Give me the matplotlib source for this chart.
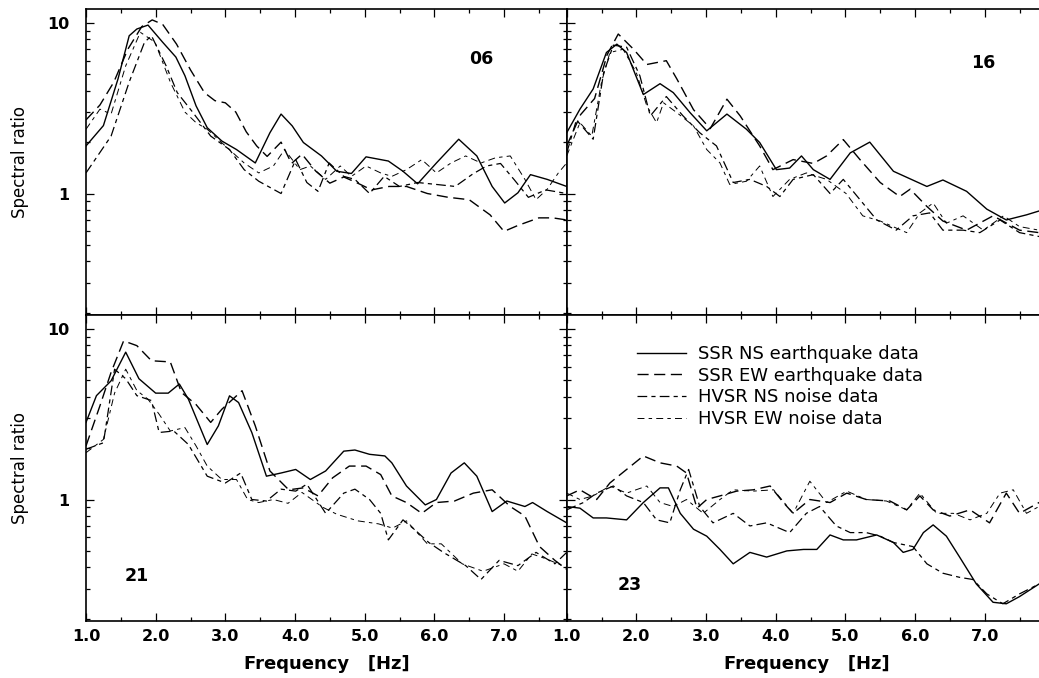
import matplotlib
matplotlib.use('Agg')
import matplotlib.pyplot as plt
from matplotlib.ticker import FixedLocator, NullFormatter

plt.rcParams['font.family'] = ['DejaVu Sans']
plt.rcParams['lines.scale_dashes'] = False

# ---- site 06 ----
f06_ssr_ns = [1.0, 1.25, 1.46, 1.62, 1.73, 1.89, 2.1, 2.29, 2.42, 2.58, 2.74, 2.95, 3.16, 3.43, 3.64, 3.8,
              3.96, 4.12, 4.38, 4.6, 4.81, 5.02, 5.34, 5.55, 5.76, 6.03, 6.35, 6.61, 6.83, 7.01, 7.2, 7.38, 7.62, 7.9]
r06_ssr_ns = [1.9, 2.5, 4.7, 8.4, 9.2, 9.7, 7.7, 6.3, 4.9, 3.26, 2.43, 2.03, 1.81, 1.51, 2.27, 2.92,
              2.49, 1.99, 1.66, 1.35, 1.31, 1.64, 1.55, 1.35, 1.14, 1.51, 2.08, 1.66, 1.1, 0.88, 1.01, 1.29, 1.21, 1.1]
f06_ssr_ew = [1.0, 1.2, 1.4, 1.6, 1.8, 1.95, 2.1, 2.3, 2.5, 2.7, 2.85, 3.0, 3.15, 3.3, 3.45, 3.6, 3.8, 3.95,
              4.1, 4.3, 4.5, 4.7, 4.9, 5.1, 5.35, 5.6, 5.9, 6.2, 6.5, 6.8, 7.0, 7.2, 7.5, 7.7, 7.9]
r06_ssr_ew = [2.7, 3.3, 4.5, 7.0, 9.5, 10.4, 9.8, 7.5, 5.3, 3.9, 3.5, 3.4, 3.0, 2.3, 1.9, 1.65, 2.0, 1.5,
              1.7, 1.35, 1.15, 1.25, 1.15, 1.05, 1.1, 1.1, 1.0, 0.95, 0.92, 0.75, 0.6, 0.65, 0.72, 0.72, 0.7]
f06_hv_ns = [1.0, 1.36, 1.62, 1.84, 1.94, 2.15, 2.31, 2.53, 2.79, 3.06, 3.27, 3.48, 3.8, 4.01, 4.17, 4.33,
             4.49, 4.7, 4.86, 5.07, 5.28, 5.5, 5.76, 6.03, 6.3, 6.55, 6.75, 6.95, 7.15, 7.35, 7.6, 7.9]
r06_hv_ns = [1.32, 2.17, 4.5, 7.7, 8.4, 5.6, 3.9, 3.0, 2.17, 1.81, 1.38, 1.18, 1.0, 1.58, 1.16, 1.03,
             1.51, 1.26, 1.21, 1.0, 1.26, 1.1, 1.16, 1.13, 1.1, 1.3, 1.45, 1.5, 1.2, 0.95, 1.05, 1.0]
f06_hv_ew = [1.0, 1.2, 1.36, 1.57, 1.78, 1.99, 2.21, 2.42, 2.58, 2.74, 3.0, 3.27, 3.48, 3.69, 3.85, 4.07,
             4.22, 4.44, 4.65, 4.81, 5.02, 5.23, 5.39, 5.6, 5.82, 6.03, 6.24, 6.45, 6.67, 6.88, 7.09, 7.3,
             7.46, 7.62, 7.78, 7.9]
r06_hv_ew = [2.38, 3.12, 2.92, 5.6, 8.8, 7.7, 4.5, 3.0, 2.6, 2.38, 1.9, 1.51, 1.32, 1.45, 1.81, 1.38,
             1.45, 1.21, 1.45, 1.26, 1.45, 1.32, 1.26, 1.38, 1.58, 1.32, 1.51, 1.66, 1.51, 1.62, 1.66, 1.21,
             0.92, 1.06, 1.32, 1.51]

# ---- site 16 ----
f16_ssr_ns = [1.0, 1.19, 1.38, 1.57, 1.72, 1.86, 2.1, 2.34, 2.53, 2.77, 3.01, 3.3, 3.58, 3.77, 4.01, 4.2,
              4.37, 4.54, 4.78, 5.07, 5.35, 5.69, 6.17, 6.4, 6.74, 7.03, 7.31, 7.6, 7.78, 7.9]
r16_ssr_ns = [2.27, 3.12, 4.1, 6.7, 7.5, 6.7, 3.8, 4.4, 3.9, 2.98, 2.33, 2.92, 2.38, 1.99, 1.38, 1.41,
              1.66, 1.38, 1.21, 1.73, 2.0, 1.35, 1.1, 1.2, 1.03, 0.81, 0.7, 0.75, 0.79, 0.8]
f16_ssr_ew = [1.0, 1.2, 1.4, 1.58, 1.74, 1.96, 2.15, 2.43, 2.58, 2.82, 3.06, 3.3, 3.49, 3.77, 3.96, 4.25,
              4.54, 4.73, 4.97, 5.21, 5.5, 5.78, 5.93, 6.17, 6.4, 6.74, 7.12, 7.5, 7.78, 7.9]
r16_ssr_ew = [1.9, 2.9, 3.6, 6.5, 8.6, 7.0, 5.7, 6.0, 4.7, 3.1, 2.4, 3.57, 2.85, 1.9, 1.38, 1.58,
              1.5, 1.66, 2.07, 1.58, 1.16, 0.96, 1.06, 0.84, 0.69, 0.61, 0.74, 0.61, 0.59, 0.6]
f16_hv_ns = [1.0, 1.14, 1.38, 1.53, 1.67, 1.86, 2.05, 2.2, 2.43, 2.67, 2.91, 3.15, 3.39, 3.63, 3.87, 4.06,
             4.25, 4.54, 4.78, 4.97, 5.21, 5.45, 5.73, 5.97, 6.21, 6.4, 6.69, 6.93, 7.22, 7.5, 7.78, 7.9]
r16_hv_ns = [1.73, 2.7, 2.08, 5.1, 7.4, 7.2, 4.9, 2.85, 3.7, 2.85, 2.27, 1.9, 1.16, 1.21, 1.1, 0.96,
             1.21, 1.29, 1.0, 1.21, 0.92, 0.7, 0.61, 0.74, 0.77, 0.61, 0.61, 0.59, 0.7, 0.59, 0.56, 0.57]
f16_hv_ew = [1.0, 1.19, 1.36, 1.5, 1.62, 1.81, 2.0, 2.15, 2.29, 2.39, 2.58, 2.82, 3.01, 3.2, 3.34, 3.58,
             3.77, 3.96, 4.2, 4.44, 4.73, 5.01, 5.25, 5.5, 5.88, 6.07, 6.26, 6.45, 6.69, 6.98, 7.27, 7.5,
             7.78, 7.9]
r16_hv_ew = [1.66, 2.6, 2.17, 4.5, 6.7, 7.0, 5.1, 3.26, 2.6, 3.4, 2.98, 2.49, 1.81, 1.51, 1.13, 1.18,
             1.45, 0.96, 1.21, 1.32, 1.21, 1.0, 0.74, 0.69, 0.59, 0.77, 0.88, 0.67, 0.74, 0.61, 0.74, 0.64,
             0.61, 0.62]

# ---- site 21 ----
f21_ssr_ns = [1.0, 1.15, 1.36, 1.57, 1.76, 2.0, 2.18, 2.34, 2.47, 2.74, 2.9, 3.06, 3.19, 3.38, 3.59, 3.8,
              4.01, 4.22, 4.44, 4.7, 4.86, 5.07, 5.29, 5.39, 5.6, 5.87, 6.03, 6.24, 6.43, 6.61, 6.83, 7.04,
              7.3, 7.41, 7.62, 7.9]
r21_ssr_ns = [2.83, 4.06, 4.96, 7.3, 5.1, 4.2, 4.2, 4.75, 3.87, 2.1, 2.7, 4.05, 3.7, 2.47, 1.37, 1.43,
              1.5, 1.31, 1.47, 1.92, 1.95, 1.84, 1.8, 1.64, 1.2, 0.93, 1.0, 1.43, 1.64, 1.37, 0.85, 0.98,
              0.91, 0.96, 0.85, 0.73]
f21_ssr_ew = [1.0, 1.2, 1.36, 1.54, 1.73, 1.94, 2.21, 2.37, 2.58, 2.79, 2.95, 3.24, 3.43, 3.64, 3.91, 4.12,
              4.33, 4.54, 4.78, 5.02, 5.23, 5.39, 5.6, 5.82, 6.03, 6.29, 6.56, 6.83, 7.09, 7.3, 7.51, 7.73,
              7.9]
r21_ssr_ew = [2.06, 3.54, 5.56, 8.5, 7.97, 6.5, 6.4, 4.24, 3.6, 2.83, 3.38, 4.34, 2.7, 1.47, 1.14, 1.17,
              1.05, 1.34, 1.57, 1.57, 1.4, 1.05, 0.96, 0.83, 0.96, 0.98, 1.09, 1.14, 0.91, 0.8, 0.53, 0.44,
              0.39]
f21_hv_ns = [1.0, 1.25, 1.41, 1.57, 1.73, 1.94, 2.05, 2.26, 2.47, 2.74, 3.0, 3.22, 3.38, 3.59, 3.8, 4.01,
             4.17, 4.44, 4.7, 4.86, 5.07, 5.23, 5.34, 5.55, 5.71, 5.92, 6.13, 6.45, 6.67, 6.93, 7.2, 7.46,
             7.73, 7.9]
r21_hv_ns = [1.97, 2.15, 5.8, 5.1, 4.06, 3.8, 2.47, 2.52, 2.1, 1.37, 1.25, 1.43, 1.0, 0.98, 1.15, 1.12,
             1.23, 0.83, 1.09, 1.15, 1.0, 0.83, 0.58, 0.76, 0.67, 0.56, 0.49, 0.41, 0.34, 0.44, 0.41, 0.49,
             0.42, 0.49]
f21_hv_ew = [1.0, 1.25, 1.41, 1.57, 1.73, 1.89, 2.05, 2.21, 2.42, 2.58, 2.74, 2.95, 3.16, 3.32, 3.48, 3.69,
             3.9, 4.1, 4.4, 4.6, 4.9, 5.2, 5.4, 5.6, 5.9, 6.1, 6.4, 6.7, 7.0, 7.2, 7.4, 7.6, 7.9]
r21_hv_ew = [1.88, 2.25, 4.2, 5.8, 4.35, 3.87, 3.16, 2.52, 2.64, 2.06, 1.57, 1.31, 1.31, 1.0, 0.96, 1.0,
             0.95, 1.1, 0.9, 0.82, 0.75, 0.72, 0.68, 0.75, 0.55, 0.55, 0.42, 0.38, 0.42, 0.38, 0.48, 0.45,
             0.4]

# ---- site 23 ----
f23_ssr_ns = [1.0, 1.19, 1.38, 1.57, 1.86, 2.1, 2.34, 2.46, 2.63, 2.82, 3.01, 3.2, 3.39, 3.63, 3.87, 4.16,
              4.4, 4.59, 4.78, 4.97, 5.16, 5.45, 5.69, 5.83, 5.97, 6.12, 6.26, 6.45, 6.64, 6.88, 7.12, 7.31,
              7.5, 7.78, 7.9]
r23_ssr_ns = [0.91, 0.89, 0.78, 0.78, 0.76, 0.96, 1.17, 1.17, 0.83, 0.67, 0.61, 0.51, 0.42, 0.49, 0.46, 0.5,
              0.51, 0.51, 0.62, 0.58, 0.58, 0.62, 0.56, 0.49, 0.51, 0.64, 0.71, 0.61, 0.46, 0.32, 0.25, 0.245,
              0.27, 0.32, 0.34]
f23_ssr_ew = [1.0, 1.19, 1.43, 1.62, 1.86, 2.1, 2.34, 2.58, 2.72, 2.87, 3.01, 3.2, 3.44, 3.68, 3.92, 4.11,
              4.25, 4.49, 4.78, 5.02, 5.3, 5.64, 5.88, 6.07, 6.26, 6.5, 6.79, 7.07, 7.31, 7.5, 7.78, 7.9]
r23_ssr_ew = [1.05, 1.14, 1.0, 1.25, 1.5, 1.8, 1.64, 1.57, 1.43, 0.89, 1.0, 1.05, 1.12, 1.14, 1.2, 0.96,
              0.83, 1.0, 0.96, 1.09, 1.0, 0.98, 0.87, 1.05, 0.87, 0.8, 0.87, 0.73, 1.09, 0.83, 0.96, 0.93]
f23_hv_ns = [1.0, 1.24, 1.43, 1.67, 1.86, 2.1, 2.29, 2.48, 2.63, 2.75, 2.91, 3.1, 3.39, 3.63, 3.87, 4.2,
             4.44, 4.63, 4.87, 5.07, 5.3, 5.5, 5.69, 5.97, 6.17, 6.4, 6.64, 6.83, 7.03, 7.26, 7.5, 7.78, 7.9]
r23_hv_ns = [0.87, 0.96, 1.09, 1.2, 1.05, 0.96, 0.76, 0.73, 1.14, 1.5, 0.91, 0.73, 0.83, 0.7, 0.73, 0.64,
             0.83, 0.91, 0.7, 0.64, 0.64, 0.61, 0.56, 0.53, 0.42, 0.37, 0.35, 0.34, 0.28, 0.245, 0.28, 0.32,
             0.33]
f23_hv_ew = [1.0, 1.19, 1.38, 1.62, 1.86, 2.15, 2.34, 2.53, 2.72, 2.96, 3.2, 3.39, 3.68, 3.97, 4.25, 4.49,
             4.73, 5.02, 5.3, 5.59, 5.88, 6.07, 6.31, 6.55, 6.79, 7.03, 7.22, 7.41, 7.6, 7.78, 7.9]
r23_hv_ew = [1.09, 1.0, 1.05, 1.2, 1.09, 1.2, 0.96, 0.91, 1.0, 0.83, 1.0, 1.14, 1.12, 1.14, 0.83, 1.28,
             0.96, 1.12, 1.0, 0.98, 0.87, 1.09, 0.83, 0.83, 0.76, 0.83, 1.09, 1.14, 0.83, 0.91, 0.95]

sites = ['06', '16', '21', '23']
labels = ['SSR NS earthquake data', 'SSR EW earthquake data', 'HVSR NS noise data', 'HVSR EW noise data']
xtick_labels = ['1.0', '2.0', '3.0', '4.0', '5.0', '6.0', '7.0']

curves = {
    '06': [(f06_ssr_ns, r06_ssr_ns), (f06_ssr_ew, r06_ssr_ew), (f06_hv_ns, r06_hv_ns), (f06_hv_ew, r06_hv_ew)],
    '16': [(f16_ssr_ns, r16_ssr_ns), (f16_ssr_ew, r16_ssr_ew), (f16_hv_ns, r16_hv_ns), (f16_hv_ew, r16_hv_ew)],
    '21': [(f21_ssr_ns, r21_ssr_ns), (f21_ssr_ew, r21_ssr_ew), (f21_hv_ns, r21_hv_ns), (f21_hv_ew, r21_hv_ew)],
    '23': [(f23_ssr_ns, r23_ssr_ns), (f23_ssr_ew, r23_ssr_ew), (f23_hv_ns, r23_hv_ns), (f23_hv_ew, r23_hv_ew)],
}

styles = [dict(ls='-', lw=1.0),
          dict(ls=(0, (8, 4)), lw=1.0),
          dict(ls=(0, (7, 3, 3, 3)), lw=0.9),
          dict(ls=(0, (5, 3, 2.5, 3)), lw=0.7)]

fig = plt.figure(figsize=(10.39, 6.78), dpi=100)
L = 86 / 1039
W = 480.7 / 1039
H = 306 / 678
B0 = 1 - 620.7 / 678
pos = {'06': [L, B0 + H, W, H], '16': [L + W, B0 + H, W, H],
       '21': [L, B0, W, H], '23': [L + W, B0, W, H]}
num_pos = {'06': (0.822, 0.836), '16': (0.866, 0.822), '21': (0.106, 0.146), '23': (0.130, 0.117)}

for s in sites:
    ax = fig.add_axes(pos[s])
    for (f, r), st, lab in zip(curves[s], styles, labels):
        ax.plot(f, r, color='black', label=lab, **st)
    ax.set_yscale('log')
    ax.set_xlim(1.0, 7.9)
    ax.set_ylim(0.195, 12.1)
    ax.xaxis.set_major_locator(FixedLocator([1, 2, 3, 4, 5, 6, 7]))
    ax.xaxis.set_minor_locator(FixedLocator([1.5, 2.5, 3.5, 4.5, 5.5, 6.5, 7.5]))
    ax.yaxis.set_major_locator(FixedLocator([1, 10]))
    ax.yaxis.set_minor_locator(FixedLocator([0.2, 0.3, 0.4, 0.5, 0.6, 0.7, 0.8, 0.9,
                                             2, 3, 4, 5, 6, 7, 8, 9]))
    ax.yaxis.set_minor_formatter(NullFormatter())
    ax.tick_params(which='both', direction='in', top=True, right=True, width=0.9)
    ax.tick_params(which='major', length=5.5)
    ax.tick_params(which='minor', length=3)
    ax.tick_params(axis='x', pad=6, labelsize=11.5)
    ax.tick_params(axis='y', pad=12, labelsize=11.5)
    for sp in ax.spines.values():
        sp.set_linewidth(1.2)

    bottom = s in ('21', '23')
    left = s in ('06', '21')
    if bottom:
        ax.set_xticks([1, 2, 3, 4, 5, 6, 7])
        ax.set_xticklabels(xtick_labels, fontweight='bold')
        ax.set_xlabel('Frequency   [Hz]', fontsize=13, fontweight='bold')
        ax.xaxis.set_label_coords(0.5, -0.112)
    else:
        ax.tick_params(axis='x', labelbottom=False)
    if left:
        ax.set_yticks([1, 10])
        ax.set_yticklabels(['1', '10'], fontweight='bold')
        ax.set_ylabel('Spectral ratio', fontsize=12)
        ax.yaxis.set_label_coords(-0.118, 0.5)
    else:
        ax.tick_params(axis='y', labelleft=False)

    ax.text(num_pos[s][0], num_pos[s][1], s, transform=ax.transAxes,
            ha='center', va='center', fontsize=12.5, fontweight='bold')

    if s == '23':
        ax.legend(loc='upper left', bbox_to_anchor=(637 / 1039, 1 - 345 / 678),
                  bbox_transform=fig.transFigure, frameon=False, fontsize=13,
                  handlelength=2.7, handletextpad=0.7, labelspacing=0.2,
                  borderpad=0, borderaxespad=0)

fig.savefig('out.png', dpi=100)
